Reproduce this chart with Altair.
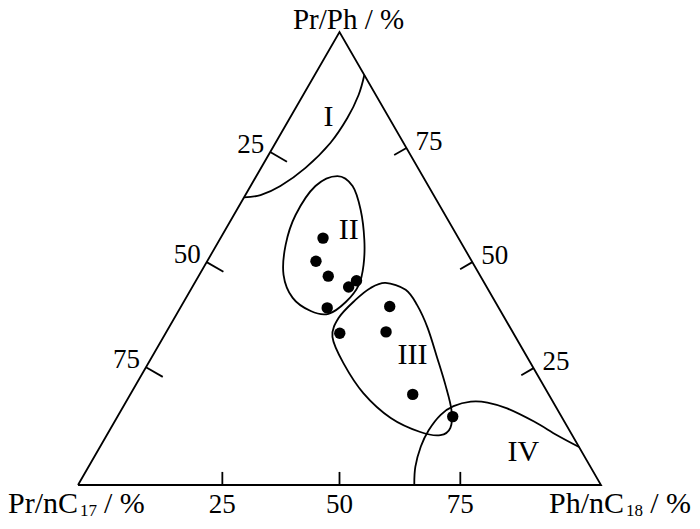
import math
import altair as alt
import pandas as pd

# ---- data (ternary percentages) -------------------------------------------
# Components: Pr/Ph (top vertex), Ph/nC18 (bottom-right), Pr/nC17 (bottom-left)
sample_pr_ph   = [54.5, 49.4, 46.1, 45.1, 43.7, 39.1, 39.4, 33.5, 33.8, 20.0, 15.1]
sample_ph_nc18 = [19.6, 20.8, 24.8, 30.7, 29.9, 28.1, 39.9, 33.3, 42.0, 54.0, 64.1]
sample_pr_nc17 = [25.9, 29.8, 29.1, 24.2, 26.4, 32.8, 20.7, 33.2, 24.2, 26.0, 20.8]

# Region boundaries as (Pr/Ph, Ph/nC18) pairs
region_I = [(90.5, 9.5), (86.1, 10.6), (81.0, 11.0), (75.5, 10.5), (70.0, 8.5),
            (66.0, 5.7), (64.0, 2.9), (63.5, 0.0)]
region_II = [(68.2, 15.5), (66.0, 19.5), (60.7, 23.7), (54.1, 27.7), (48.6, 30.3),
             (44.2, 31.6), (40.4, 31.0), (37.8, 29.0), (38.4, 25.3), (41.3, 20.4),
             (46.4, 16.1), (53.0, 13.2), (59.6, 11.8), (66.0, 12.4)]
region_III = [(44.6, 36.5), (43.1, 41.1), (39.7, 45.0), (34.7, 49.5), (28.0, 54.7),
              (22.1, 59.2), (16.6, 63.1), (12.6, 64.9), (11.0, 63.8), (11.7, 59.6),
              (14.8, 52.4), (20.3, 44.4), (26.9, 37.3), (32.7, 32.3), (36.9, 31.4),
              (40.8, 32.6), (43.5, 34.2)]
region_IV = [(0.0, 64.3), (4.0, 62.5), (8.5, 61.3), (12.1, 61.0), (15.5, 61.6),
             (17.4, 63.1), (18.4, 65.9), (18.2, 69.2), (16.9, 73.6), (14.0, 80.2),
             (11.0, 86.1), (8.4, 91.6)]

region_names = ["I", "II", "III", "IV"]
region_label_pr_ph = [81.2, 56.3, 28.7, 7.3]
region_label_ph_nc18 = [7.3, 23.6, 49.6, 81.5]

# Axis ticks (positions as drawn) and labels
left_tick_labels = ["25", "50", "75"]
left_tick_pr_nc17 = [26.5, 50.8, 74.0]     # along left edge (top to bottom)
right_tick_labels = ["75", "50", "25"]
right_tick_pr_ph = [74.4, 49.2, 25.8]      # along right edge (top to bottom)
bottom_tick_labels = ["25", "50", "75"]
bottom_tick_ph_nc18 = [27.6, 50.0, 73.1]   # along bottom edge (left to right)

FONT = "Liberation Serif"
S3 = math.sqrt(3) / 2
SW = 1.8


def xy(a, b):
    """Ternary (Pr/Ph, Ph/nC18) -> cartesian in base-width units."""
    return b + a / 2.0, a * S3


X = alt.X("x:Q", scale=alt.Scale(domain=[0, 100], nice=False, zero=False), axis=None)
Y = alt.Y("y:Q", scale=alt.Scale(domain=[0, 100 * S3], nice=False, zero=False), axis=None)

# triangle frame
tri_rows = []
for i, (a, b) in enumerate([(0, 0), (0, 100), (100, 0), (0, 0)]):
    x, y = xy(a, b)
    tri_rows.append({"x": x, "y": y, "i": i})
tri = alt.Chart(pd.DataFrame(tri_rows)).mark_line(
    color="black", strokeWidth=SW, strokeJoin="miter"
).encode(x=X, y=Y, order="i:Q")

# ticks
tick_rows = []
L_LEFT, L_RIGHT, L_BOTTOM = 3.7, 2.7, 2.5
for lab, c in zip(left_tick_labels, left_tick_pr_nc17):
    x, y = xy(100 - c, 0)
    tick_rows.append({"x": x, "y": y, "x2": x + L_LEFT * S3, "y2": y - L_LEFT * 0.5,
                      "side": "left", "label": lab})
for lab, a in zip(right_tick_labels, right_tick_pr_ph):
    x, y = xy(a, 100 - a)
    tick_rows.append({"x": x, "y": y, "x2": x - L_RIGHT * S3, "y2": y - L_RIGHT * 0.5,
                      "side": "right", "label": lab})
for lab, b in zip(bottom_tick_labels, bottom_tick_ph_nc18):
    x, y = xy(0, b)
    tick_rows.append({"x": x, "y": y, "x2": x, "y2": y + L_BOTTOM,
                      "side": "bottom", "label": lab})
ticks_df = pd.DataFrame(tick_rows)

ticks = alt.Chart(ticks_df).mark_rule(color="black", strokeWidth=SW).encode(
    x=X, y=Y, x2="x2:Q", y2="y2:Q"
)

tl_left = alt.Chart(ticks_df[ticks_df.side == "left"]).mark_text(
    font=FONT, fontSize=27, align="right", baseline="middle", dx=-6, dy=-7, color="black"
).encode(x=X, y=Y, text="label:N")
tl_right = alt.Chart(ticks_df[ticks_df.side == "right"]).mark_text(
    font=FONT, fontSize=27, align="left", baseline="middle", dx=9, dy=-6, color="black"
).encode(x=X, y=Y, text="label:N")
tl_bottom = alt.Chart(ticks_df[ticks_df.side == "bottom"]).mark_text(
    font=FONT, fontSize=27, align="center", baseline="alphabetic", dy=28, color="black"
).encode(x=X, y=Y, text="label:N")

# region boundaries
curve_rows = []
for name, pts in zip(region_names, [region_I, region_II, region_III, region_IV]):
    for i, (a, b) in enumerate(pts):
        x, y = xy(a, b)
        curve_rows.append({"region": name, "i": i, "x": x, "y": y})
curves_df = pd.DataFrame(curve_rows)

closed = alt.Chart(curves_df[curves_df.region.isin(["II", "III"])]).mark_line(
    color="black", strokeWidth=SW, interpolate="cardinal-closed"
).encode(x=X, y=Y, detail="region:N", order="i:Q")
opened = alt.Chart(curves_df[curves_df.region.isin(["I", "IV"])]).mark_line(
    color="black", strokeWidth=SW, interpolate="cardinal"
).encode(x=X, y=Y, detail="region:N", order="i:Q")

# region labels
rl_rows = []
for n, a, b in zip(region_names, region_label_pr_ph, region_label_ph_nc18):
    x, y = xy(a, b)
    rl_rows.append({"x": x, "y": y, "name": n})
region_labels = alt.Chart(pd.DataFrame(rl_rows)).mark_text(
    font=FONT, fontSize=30, align="center", baseline="middle", color="black"
).encode(x=X, y=Y, text="name:N")

# samples
pt_rows = []
for a, b, c in zip(sample_pr_ph, sample_ph_nc18, sample_pr_nc17):
    tot = a + b + c
    x, y = xy(a * 100 / tot, b * 100 / tot)
    pt_rows.append({"x": x, "y": y})
points = alt.Chart(pd.DataFrame(pt_rows)).mark_circle(
    size=130, color="black", opacity=1
).encode(x=X, y=Y)

# corner titles, anchored on the vertices
top_x, top_y = xy(100, 0)
bl_x, bl_y = xy(0, 0)
br_x, br_y = xy(0, 100)


def corner_text(x, y, text, size, align, dx, dy):
    return alt.Chart(pd.DataFrame([{"x": x, "y": y, "t": text}])).mark_text(
        font=FONT, fontSize=size, align=align, baseline="alphabetic",
        dx=dx, dy=dy, color="black"
    ).encode(x=X, y=Y, text="t:N")


titles = [
    corner_text(top_x, top_y, "Pr/Ph / %", 29, "center", 9, -3),
    corner_text(bl_x, bl_y, "Pr/nC", 30, "right", 0, 28),
    corner_text(bl_x, bl_y, "17", 17, "left", 2, 31),
    corner_text(bl_x, bl_y, "/ %", 30, "left", 26, 28),
    corner_text(br_x, br_y, "Ph/nC", 30, "right", 23, 28),
    corner_text(br_x, br_y, "18", 17, "right", 42, 31),
    corner_text(br_x, br_y, "/ %", 30, "right", 90, 28),
]

chart = alt.layer(
    tri, ticks, closed, opened, points, region_labels,
    tl_left, tl_right, tl_bottom, *titles
).properties(
    width=523, height=453,
    autosize=alt.AutoSizeParams(type="none"),
    padding={"left": 70, "top": 24, "right": 91, "bottom": 36},
    background="white",
).configure_view(stroke=None)

chart.save("out.html", embed_options={"renderer": "svg", "actions": False})
